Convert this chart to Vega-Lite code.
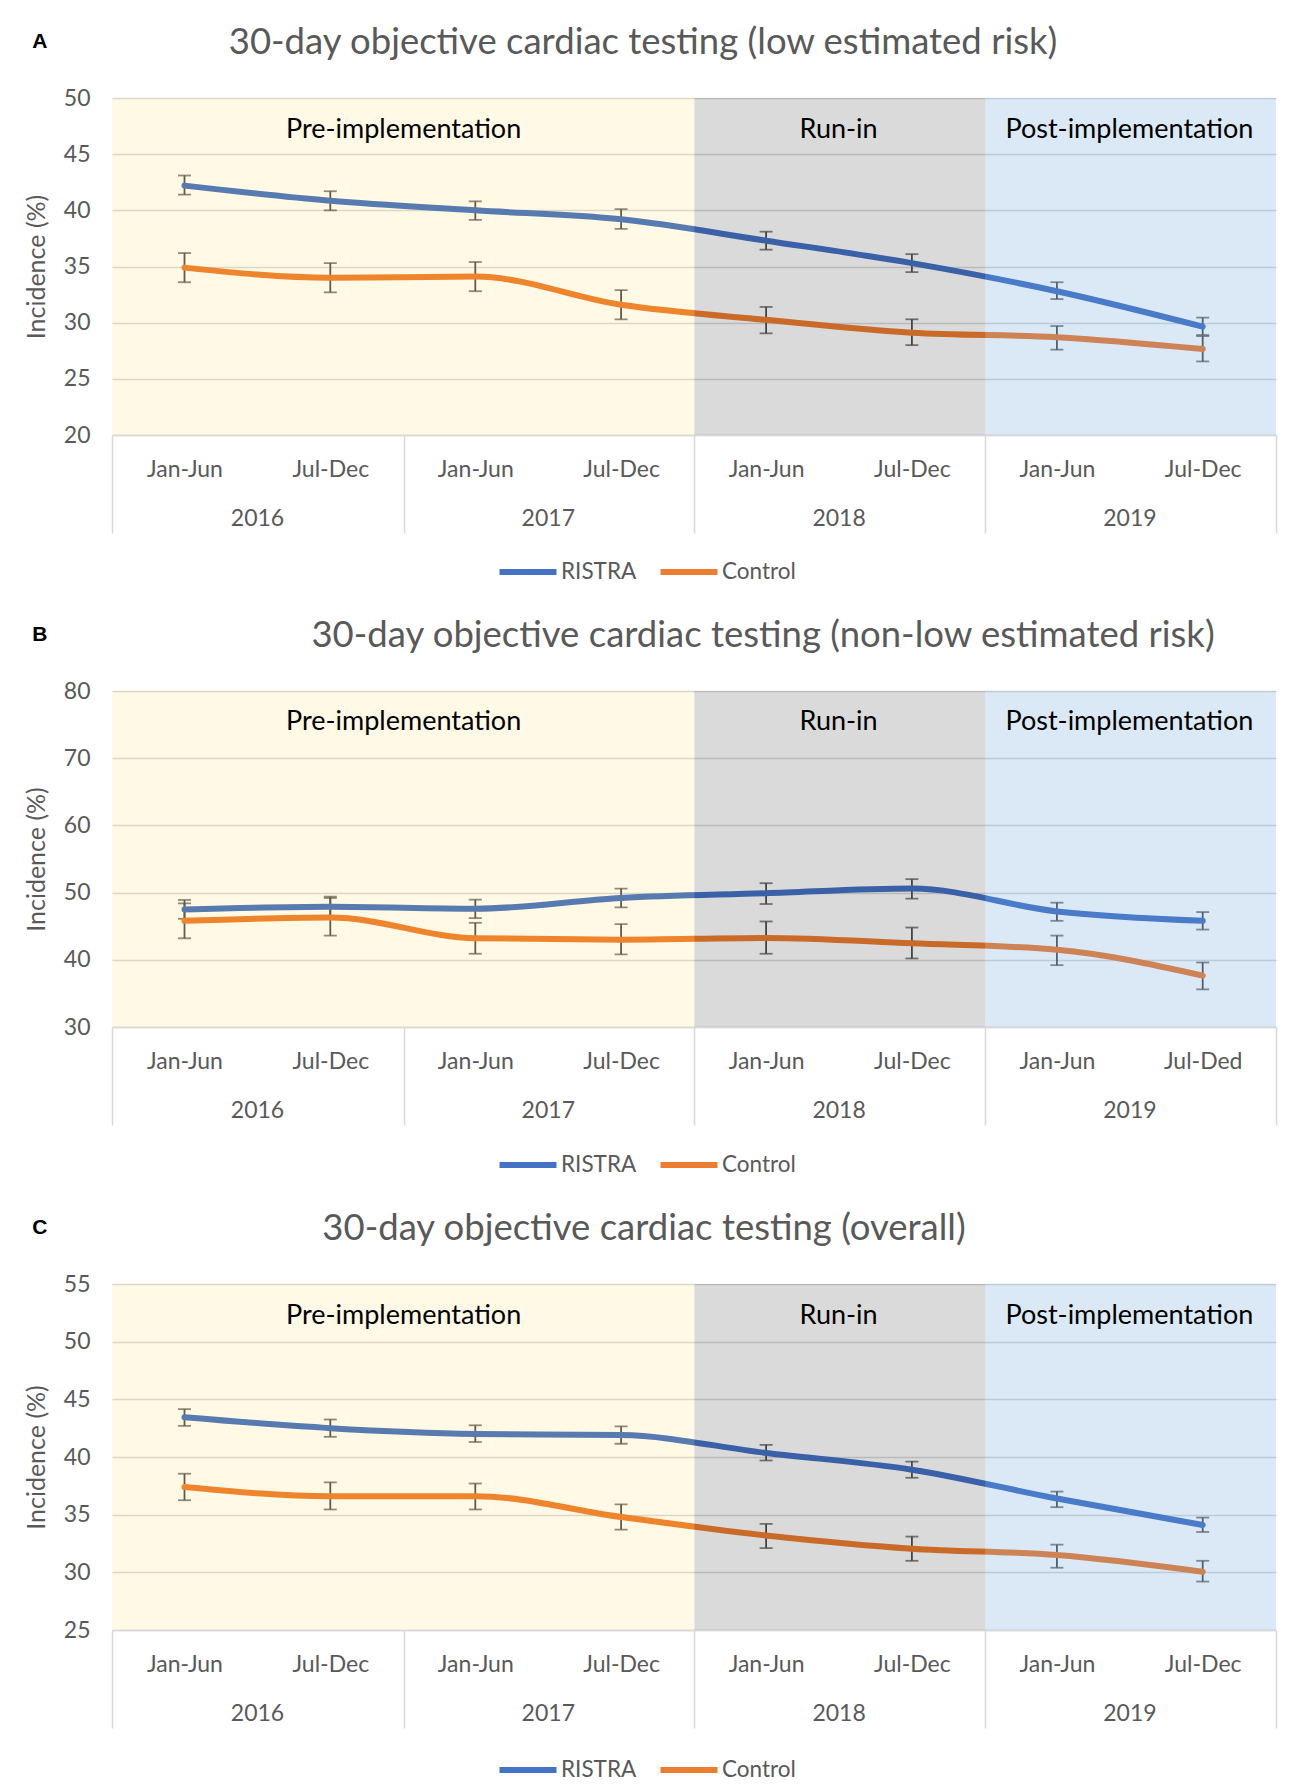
{
  "$schema": "https://vega.github.io/schema/vega-lite/v6.json",
  "background": "white",
  "padding": {"left": 24, "top": 25, "right": 10, "bottom": 5},
  "spacing": 34,
  "config": {
    "font": "Lato",
    "view": {"stroke": null},
    "axis": {"labelFont": "Lato", "titleFont": "Lato", "labelColor": "#595959", "titleColor": "#595959", "labelFontSize": 23, "titleFontSize": 25, "titleFontWeight": "normal", "ticks": false, "domain": false, "grid": false, "labelFlush": false, "labelOverlap": false},
    "title": {"font": "Lato", "fontWeight": "normal", "color": "#595959", "fontSize": 36.5},
    "legend": {"orient": "none", "legendX": 384, "legendY": 442, "direction": "horizontal", "labelFont": "Lato", "labelFontSize": 22.5, "labelColor": "#595959", "symbolType": "stroke", "symbolStrokeWidth": 6, "symbolSize": 3250, "columnPadding": 11, "labelOffset": 1, "padding": 0}
  },
  "datasets": {
    "phases": [
      {"phase": "Pre-implementation", "start": "2016-01-01", "end": "2018-01-01", "mid": "2017-01-01"},
      {"phase": "Run-in", "start": "2018-01-01", "end": "2019-01-01", "mid": "2018-07-01"},
      {"phase": "Post-implementation", "start": "2019-01-01", "end": "2020-01-01", "mid": "2019-07-01"}
    ],
    "A": [
      {"period": "2016-04-01", "group": "RISTRA", "value": 42.2, "lo": 41.4, "hi": 43.1},
      {"period": "2016-10-01", "group": "RISTRA", "value": 40.85, "lo": 40.0, "hi": 41.7},
      {"period": "2017-04-01", "group": "RISTRA", "value": 40.0, "lo": 39.15, "hi": 40.8},
      {"period": "2017-10-01", "group": "RISTRA", "value": 39.2, "lo": 38.35, "hi": 40.1},
      {"period": "2018-04-01", "group": "RISTRA", "value": 37.3, "lo": 36.5, "hi": 38.1},
      {"period": "2018-10-01", "group": "RISTRA", "value": 35.3, "lo": 34.5, "hi": 36.1},
      {"period": "2019-04-01", "group": "RISTRA", "value": 32.8, "lo": 32.1, "hi": 33.6},
      {"period": "2019-10-01", "group": "RISTRA", "value": 29.65, "lo": 28.9, "hi": 30.45},
      {"period": "2016-04-01", "group": "Control", "value": 34.9, "lo": 33.6, "hi": 36.2},
      {"period": "2016-10-01", "group": "Control", "value": 34.0, "lo": 32.7, "hi": 35.3},
      {"period": "2017-04-01", "group": "Control", "value": 34.1, "lo": 32.8, "hi": 35.4},
      {"period": "2017-10-01", "group": "Control", "value": 31.6, "lo": 30.3, "hi": 32.9},
      {"period": "2018-04-01", "group": "Control", "value": 30.25, "lo": 29.05, "hi": 31.4},
      {"period": "2018-10-01", "group": "Control", "value": 29.1, "lo": 28.0, "hi": 30.3},
      {"period": "2019-04-01", "group": "Control", "value": 28.7, "lo": 27.6, "hi": 29.7},
      {"period": "2019-10-01", "group": "Control", "value": 27.65, "lo": 26.55, "hi": 28.8}
    ],
    "B": [
      {"period": "2016-04-01", "group": "RISTRA", "value": 47.5, "lo": 46.1, "hi": 48.9},
      {"period": "2016-10-01", "group": "RISTRA", "value": 47.9, "lo": 46.45, "hi": 49.4},
      {"period": "2017-04-01", "group": "RISTRA", "value": 47.6, "lo": 46.2, "hi": 48.95},
      {"period": "2017-10-01", "group": "RISTRA", "value": 49.2, "lo": 47.8, "hi": 50.6},
      {"period": "2018-04-01", "group": "RISTRA", "value": 49.9, "lo": 48.3, "hi": 51.4},
      {"period": "2018-10-01", "group": "RISTRA", "value": 50.6, "lo": 49.1, "hi": 52.0},
      {"period": "2019-04-01", "group": "RISTRA", "value": 47.2, "lo": 45.8, "hi": 48.5},
      {"period": "2019-10-01", "group": "RISTRA", "value": 45.8, "lo": 44.5, "hi": 47.1},
      {"period": "2016-04-01", "group": "Control", "value": 45.8, "lo": 43.2, "hi": 48.4},
      {"period": "2016-10-01", "group": "Control", "value": 46.3, "lo": 43.6, "hi": 49.2},
      {"period": "2017-04-01", "group": "Control", "value": 43.2, "lo": 40.9, "hi": 45.5},
      {"period": "2017-10-01", "group": "Control", "value": 43.0, "lo": 40.8, "hi": 45.3},
      {"period": "2018-04-01", "group": "Control", "value": 43.25, "lo": 40.9, "hi": 45.7},
      {"period": "2018-10-01", "group": "Control", "value": 42.45, "lo": 40.2, "hi": 44.8},
      {"period": "2019-04-01", "group": "Control", "value": 41.5, "lo": 39.2, "hi": 43.6},
      {"period": "2019-10-01", "group": "Control", "value": 37.65, "lo": 35.6, "hi": 39.6}
    ],
    "C": [
      {"period": "2016-04-01", "group": "RISTRA", "value": 43.45, "lo": 42.7, "hi": 44.15},
      {"period": "2016-10-01", "group": "RISTRA", "value": 42.5, "lo": 41.75, "hi": 43.25},
      {"period": "2017-04-01", "group": "RISTRA", "value": 42.0, "lo": 41.3, "hi": 42.75},
      {"period": "2017-10-01", "group": "RISTRA", "value": 41.9, "lo": 41.15, "hi": 42.65},
      {"period": "2018-04-01", "group": "RISTRA", "value": 40.35, "lo": 39.7, "hi": 41.05},
      {"period": "2018-10-01", "group": "RISTRA", "value": 38.9, "lo": 38.2, "hi": 39.6},
      {"period": "2019-04-01", "group": "RISTRA", "value": 36.4, "lo": 35.65, "hi": 37.0},
      {"period": "2019-10-01", "group": "RISTRA", "value": 34.1, "lo": 33.5, "hi": 34.75},
      {"period": "2016-04-01", "group": "Control", "value": 37.4, "lo": 36.25, "hi": 38.55},
      {"period": "2016-10-01", "group": "Control", "value": 36.6, "lo": 35.45, "hi": 37.8},
      {"period": "2017-04-01", "group": "Control", "value": 36.6, "lo": 35.45, "hi": 37.7},
      {"period": "2017-10-01", "group": "Control", "value": 34.8, "lo": 33.7, "hi": 35.9},
      {"period": "2018-04-01", "group": "Control", "value": 33.2, "lo": 32.1, "hi": 34.2},
      {"period": "2018-10-01", "group": "Control", "value": 32.05, "lo": 31.0, "hi": 33.1},
      {"period": "2019-04-01", "group": "Control", "value": 31.5, "lo": 30.4, "hi": 32.4},
      {"period": "2019-10-01", "group": "Control", "value": 30.05, "lo": 29.2, "hi": 31.0}
    ]
  },
  "resolve": {"scale": {"x": "independent", "y": "independent", "color": "independent", "fill": "independent"}, "legend": {"color": "independent"}},
  "vconcat": [
    {
      "title": {"text": "A", "anchor": "start", "frame": "bounds", "font": "Liberation Sans", "fontWeight": "bold", "fontSize": 21, "color": "#000000", "offset": -27, "dx": 8},
      "resolve": {"scale": {"x": "independent", "y": "independent", "color": "independent", "fill": "independent"}, "legend": {"color": "independent"}},
      "vconcat": [
        {
          "title": {"text": "30-day objective cardiac testing (low estimated risk)", "anchor": "middle", "frame": "group", "dx": -51, "offset": 25.5},
          "width": 1164,
          "height": 337,
          "data": {"name": "A"},
          "resolve": {"axis": {"x": "independent"}},
          "layer": [
            {
              "mark": {"type": "rule", "color": "#505050", "strokeWidth": 1.8},
              "encoding": {
                "x": {"field": "period", "type": "temporal", "scale": {"type": "utc"}, "axis": {"orient": "bottom", "values": [{"year": 2016, "month": 7, "date": 1, "utc": true}, {"year": 2017, "month": 7, "date": 1, "utc": true}, {"year": 2018, "month": 7, "date": 1, "utc": true}, {"year": 2019, "month": 7, "date": 1, "utc": true}], "labelExpr": "utcFormat(datum.value, '%Y')", "labelPadding": 72, "title": null}},
                "y": {"field": "lo", "type": "quantitative", "axis": {"values": [20, 25, 30, 35, 40, 45, 50], "title": "Incidence (%)", "grid": true, "gridColor": "#D9D9D9", "gridWidth": 1.5, "labelPadding": 22, "titlePadding": 14}},
                "y2": {"field": "hi"}
              }
            },
            {
              "mark": {"type": "tick", "orient": "horizontal", "color": "#505050", "size": 13, "thickness": 1.8},
              "encoding": {
                "x": {"field": "period", "type": "temporal", "scale": {"type": "utc"}, "axis": null},
                "y": {"field": "lo", "type": "quantitative", "axis": {"values": [20, 25, 30, 35, 40, 45, 50], "title": "Incidence (%)", "grid": true, "gridColor": "#D9D9D9", "gridWidth": 1.5, "labelPadding": 22, "titlePadding": 14}}
              }
            },
            {
              "mark": {"type": "tick", "orient": "horizontal", "color": "#505050", "size": 13, "thickness": 1.8},
              "encoding": {
                "x": {"field": "period", "type": "temporal", "scale": {"type": "utc"}, "axis": null},
                "y": {"field": "hi", "type": "quantitative", "axis": {"values": [20, 25, 30, 35, 40, 45, 50], "title": "Incidence (%)", "grid": true, "gridColor": "#D9D9D9", "gridWidth": 1.5, "labelPadding": 22, "titlePadding": 14}}
              }
            },
            {
              "mark": {"type": "line", "strokeWidth": 6, "strokeCap": "round", "strokeJoin": "round", "interpolate": "monotone"},
              "encoding": {
                "x": {"field": "period", "type": "temporal", "scale": {"type": "utc", "nice": false, "domain": [{"year": 2016, "month": 1, "date": 1, "utc": true}, {"year": 2020, "month": 1, "date": 1, "utc": true}]}, "axis": {"orient": "bottom", "values": [{"year": 2016, "month": 4, "date": 1, "utc": true}, {"year": 2016, "month": 10, "date": 1, "utc": true}, {"year": 2017, "month": 4, "date": 1, "utc": true}, {"year": 2017, "month": 10, "date": 1, "utc": true}, {"year": 2018, "month": 4, "date": 1, "utc": true}, {"year": 2018, "month": 10, "date": 1, "utc": true}, {"year": 2019, "month": 4, "date": 1, "utc": true}, {"year": 2019, "month": 10, "date": 1, "utc": true}], "labelExpr": "utcFormat(datum.value, '%m') == '04' ? 'Jan-Jun' : 'Jul-Dec'", "labelPadding": 23, "title": null, "domain": true, "domainColor": "#D9D9D9", "domainWidth": 1.5}},
                "y": {"field": "value", "type": "quantitative", "scale": {"domain": [20, 50], "nice": false, "zero": false}, "axis": {"values": [20, 25, 30, 35, 40, 45, 50], "title": "Incidence (%)", "grid": true, "gridColor": "#D9D9D9", "gridWidth": 1.5, "labelPadding": 22, "titlePadding": 14}},
                "color": {"field": "group", "type": "nominal", "scale": {"domain": ["RISTRA", "Control"], "range": ["#4472C4", "#ED7D31"]}, "legend": {"title": null}}
              }
            },
            {
              "data": {"name": "phases"},
              "mark": {"type": "rect"},
              "encoding": {
                "x": {"field": "start", "type": "temporal", "scale": {"type": "utc"}, "axis": {"orient": "bottom", "values": [{"year": 2016, "month": 1, "date": 1, "utc": true}, {"year": 2017, "month": 1, "date": 1, "utc": true}, {"year": 2018, "month": 1, "date": 1, "utc": true}, {"year": 2019, "month": 1, "date": 1, "utc": true}, {"year": 2020, "month": 1, "date": 1, "utc": true}], "labels": false, "ticks": true, "tickSize": 98, "tickColor": "#D9D9D9", "tickWidth": 1.5, "title": null}},
                "x2": {"field": "end"},
                "fill": {"field": "phase", "type": "nominal", "scale": {"domain": ["Pre-implementation", "Run-in", "Post-implementation"], "range": ["rgba(255,192,0,0.1)", "rgba(0,0,0,0.145)", "rgba(91,155,213,0.22)"]}, "legend": null}
              }
            },
            {
              "data": {"name": "phases"},
              "mark": {"type": "text", "font": "Lato", "fontSize": 27, "color": "#000000"},
              "encoding": {
                "x": {"field": "mid", "type": "temporal", "scale": {"type": "utc"}, "axis": null},
                "y": {"datum": 47.15, "type": "quantitative", "axis": {"values": [20, 25, 30, 35, 40, 45, 50], "title": "Incidence (%)", "grid": true, "gridColor": "#D9D9D9", "gridWidth": 1.5, "labelPadding": 22, "titlePadding": 14}},
                "text": {"field": "phase"}
              }
            }
          ]
        }
      ]
    },
    {
      "title": {"text": "B", "anchor": "start", "frame": "bounds", "font": "Liberation Sans", "fontWeight": "bold", "fontSize": 21, "color": "#000000", "offset": -27, "dx": 8},
      "resolve": {"scale": {"x": "independent", "y": "independent", "color": "independent", "fill": "independent"}, "legend": {"color": "independent"}},
      "vconcat": [
        {
          "title": {"text": "30-day objective cardiac testing (non-low estimated risk)", "anchor": "middle", "frame": "group", "dx": 69, "offset": 25.5},
          "width": 1164,
          "height": 336,
          "data": {"name": "B"},
          "resolve": {"axis": {"x": "independent"}},
          "layer": [
            {
              "mark": {"type": "rule", "color": "#505050", "strokeWidth": 1.8},
              "encoding": {
                "x": {"field": "period", "type": "temporal", "scale": {"type": "utc"}, "axis": {"orient": "bottom", "values": [{"year": 2016, "month": 7, "date": 1, "utc": true}, {"year": 2017, "month": 7, "date": 1, "utc": true}, {"year": 2018, "month": 7, "date": 1, "utc": true}, {"year": 2019, "month": 7, "date": 1, "utc": true}], "labelExpr": "utcFormat(datum.value, '%Y')", "labelPadding": 72, "title": null}},
                "y": {"field": "lo", "type": "quantitative", "axis": {"values": [30, 40, 50, 60, 70, 80], "title": "Incidence (%)", "grid": true, "gridColor": "#D9D9D9", "gridWidth": 1.5, "labelPadding": 22, "titlePadding": 14}},
                "y2": {"field": "hi"}
              }
            },
            {
              "mark": {"type": "tick", "orient": "horizontal", "color": "#505050", "size": 13, "thickness": 1.8},
              "encoding": {
                "x": {"field": "period", "type": "temporal", "scale": {"type": "utc"}, "axis": null},
                "y": {"field": "lo", "type": "quantitative", "axis": {"values": [30, 40, 50, 60, 70, 80], "title": "Incidence (%)", "grid": true, "gridColor": "#D9D9D9", "gridWidth": 1.5, "labelPadding": 22, "titlePadding": 14}}
              }
            },
            {
              "mark": {"type": "tick", "orient": "horizontal", "color": "#505050", "size": 13, "thickness": 1.8},
              "encoding": {
                "x": {"field": "period", "type": "temporal", "scale": {"type": "utc"}, "axis": null},
                "y": {"field": "hi", "type": "quantitative", "axis": {"values": [30, 40, 50, 60, 70, 80], "title": "Incidence (%)", "grid": true, "gridColor": "#D9D9D9", "gridWidth": 1.5, "labelPadding": 22, "titlePadding": 14}}
              }
            },
            {
              "mark": {"type": "line", "strokeWidth": 6, "strokeCap": "round", "strokeJoin": "round", "interpolate": "monotone"},
              "encoding": {
                "x": {"field": "period", "type": "temporal", "scale": {"type": "utc", "nice": false, "domain": [{"year": 2016, "month": 1, "date": 1, "utc": true}, {"year": 2020, "month": 1, "date": 1, "utc": true}]}, "axis": {"orient": "bottom", "values": [{"year": 2016, "month": 4, "date": 1, "utc": true}, {"year": 2016, "month": 10, "date": 1, "utc": true}, {"year": 2017, "month": 4, "date": 1, "utc": true}, {"year": 2017, "month": 10, "date": 1, "utc": true}, {"year": 2018, "month": 4, "date": 1, "utc": true}, {"year": 2018, "month": 10, "date": 1, "utc": true}, {"year": 2019, "month": 4, "date": 1, "utc": true}, {"year": 2019, "month": 10, "date": 1, "utc": true}], "labelExpr": "utcFormat(datum.value, '%Y-%m') == '2019-10' ? 'Jul-Ded' : (utcFormat(datum.value, '%m') == '04' ? 'Jan-Jun' : 'Jul-Dec')", "labelPadding": 23, "title": null, "domain": true, "domainColor": "#D9D9D9", "domainWidth": 1.5}},
                "y": {"field": "value", "type": "quantitative", "scale": {"domain": [30, 80], "nice": false, "zero": false}, "axis": {"values": [30, 40, 50, 60, 70, 80], "title": "Incidence (%)", "grid": true, "gridColor": "#D9D9D9", "gridWidth": 1.5, "labelPadding": 22, "titlePadding": 14}},
                "color": {"field": "group", "type": "nominal", "scale": {"domain": ["RISTRA", "Control"], "range": ["#4472C4", "#ED7D31"]}, "legend": {"title": null}}
              }
            },
            {
              "data": {"name": "phases"},
              "mark": {"type": "rect"},
              "encoding": {
                "x": {"field": "start", "type": "temporal", "scale": {"type": "utc"}, "axis": {"orient": "bottom", "values": [{"year": 2016, "month": 1, "date": 1, "utc": true}, {"year": 2017, "month": 1, "date": 1, "utc": true}, {"year": 2018, "month": 1, "date": 1, "utc": true}, {"year": 2019, "month": 1, "date": 1, "utc": true}, {"year": 2020, "month": 1, "date": 1, "utc": true}], "labels": false, "ticks": true, "tickSize": 98, "tickColor": "#D9D9D9", "tickWidth": 1.5, "title": null}},
                "x2": {"field": "end"},
                "fill": {"field": "phase", "type": "nominal", "scale": {"domain": ["Pre-implementation", "Run-in", "Post-implementation"], "range": ["rgba(255,192,0,0.1)", "rgba(0,0,0,0.145)", "rgba(91,155,213,0.22)"]}, "legend": null}
              }
            },
            {
              "data": {"name": "phases"},
              "mark": {"type": "text", "font": "Lato", "fontSize": 27, "color": "#000000"},
              "encoding": {
                "x": {"field": "mid", "type": "temporal", "scale": {"type": "utc"}, "axis": null},
                "y": {"datum": 75.4, "type": "quantitative", "axis": {"values": [30, 40, 50, 60, 70, 80], "title": "Incidence (%)", "grid": true, "gridColor": "#D9D9D9", "gridWidth": 1.5, "labelPadding": 22, "titlePadding": 14}},
                "text": {"field": "phase"}
              }
            }
          ]
        }
      ]
    },
    {
      "title": {"text": "C", "anchor": "start", "frame": "bounds", "font": "Liberation Sans", "fontWeight": "bold", "fontSize": 21, "color": "#000000", "offset": -27, "dx": 8},
      "resolve": {"scale": {"x": "independent", "y": "independent", "color": "independent", "fill": "independent"}, "legend": {"color": "independent"}},
      "vconcat": [
        {
          "title": {"text": "30-day objective cardiac testing (overall)", "anchor": "middle", "frame": "group", "dx": -50, "offset": 25.5},
          "width": 1164,
          "height": 346,
          "data": {"name": "C"},
          "resolve": {"axis": {"x": "independent"}},
          "layer": [
            {
              "mark": {"type": "rule", "color": "#505050", "strokeWidth": 1.8},
              "encoding": {
                "x": {"field": "period", "type": "temporal", "scale": {"type": "utc"}, "axis": {"orient": "bottom", "values": [{"year": 2016, "month": 7, "date": 1, "utc": true}, {"year": 2017, "month": 7, "date": 1, "utc": true}, {"year": 2018, "month": 7, "date": 1, "utc": true}, {"year": 2019, "month": 7, "date": 1, "utc": true}], "labelExpr": "utcFormat(datum.value, '%Y')", "labelPadding": 72, "title": null}},
                "y": {"field": "lo", "type": "quantitative", "axis": {"values": [25, 30, 35, 40, 45, 50, 55], "title": "Incidence (%)", "grid": true, "gridColor": "#D9D9D9", "gridWidth": 1.5, "labelPadding": 22, "titlePadding": 14}},
                "y2": {"field": "hi"}
              }
            },
            {
              "mark": {"type": "tick", "orient": "horizontal", "color": "#505050", "size": 13, "thickness": 1.8},
              "encoding": {
                "x": {"field": "period", "type": "temporal", "scale": {"type": "utc"}, "axis": null},
                "y": {"field": "lo", "type": "quantitative", "axis": {"values": [25, 30, 35, 40, 45, 50, 55], "title": "Incidence (%)", "grid": true, "gridColor": "#D9D9D9", "gridWidth": 1.5, "labelPadding": 22, "titlePadding": 14}}
              }
            },
            {
              "mark": {"type": "tick", "orient": "horizontal", "color": "#505050", "size": 13, "thickness": 1.8},
              "encoding": {
                "x": {"field": "period", "type": "temporal", "scale": {"type": "utc"}, "axis": null},
                "y": {"field": "hi", "type": "quantitative", "axis": {"values": [25, 30, 35, 40, 45, 50, 55], "title": "Incidence (%)", "grid": true, "gridColor": "#D9D9D9", "gridWidth": 1.5, "labelPadding": 22, "titlePadding": 14}}
              }
            },
            {
              "mark": {"type": "line", "strokeWidth": 6, "strokeCap": "round", "strokeJoin": "round", "interpolate": "monotone"},
              "encoding": {
                "x": {"field": "period", "type": "temporal", "scale": {"type": "utc", "nice": false, "domain": [{"year": 2016, "month": 1, "date": 1, "utc": true}, {"year": 2020, "month": 1, "date": 1, "utc": true}]}, "axis": {"orient": "bottom", "values": [{"year": 2016, "month": 4, "date": 1, "utc": true}, {"year": 2016, "month": 10, "date": 1, "utc": true}, {"year": 2017, "month": 4, "date": 1, "utc": true}, {"year": 2017, "month": 10, "date": 1, "utc": true}, {"year": 2018, "month": 4, "date": 1, "utc": true}, {"year": 2018, "month": 10, "date": 1, "utc": true}, {"year": 2019, "month": 4, "date": 1, "utc": true}, {"year": 2019, "month": 10, "date": 1, "utc": true}], "labelExpr": "utcFormat(datum.value, '%m') == '04' ? 'Jan-Jun' : 'Jul-Dec'", "labelPadding": 23, "title": null, "domain": true, "domainColor": "#D9D9D9", "domainWidth": 1.5}},
                "y": {"field": "value", "type": "quantitative", "scale": {"domain": [25, 55], "nice": false, "zero": false}, "axis": {"values": [25, 30, 35, 40, 45, 50, 55], "title": "Incidence (%)", "grid": true, "gridColor": "#D9D9D9", "gridWidth": 1.5, "labelPadding": 22, "titlePadding": 14}},
                "color": {"field": "group", "type": "nominal", "scale": {"domain": ["RISTRA", "Control"], "range": ["#4472C4", "#ED7D31"]}, "legend": {"title": null, "legendY": 454}}
              }
            },
            {
              "data": {"name": "phases"},
              "mark": {"type": "rect"},
              "encoding": {
                "x": {"field": "start", "type": "temporal", "scale": {"type": "utc"}, "axis": {"orient": "bottom", "values": [{"year": 2016, "month": 1, "date": 1, "utc": true}, {"year": 2017, "month": 1, "date": 1, "utc": true}, {"year": 2018, "month": 1, "date": 1, "utc": true}, {"year": 2019, "month": 1, "date": 1, "utc": true}, {"year": 2020, "month": 1, "date": 1, "utc": true}], "labels": false, "ticks": true, "tickSize": 98, "tickColor": "#D9D9D9", "tickWidth": 1.5, "title": null}},
                "x2": {"field": "end"},
                "fill": {"field": "phase", "type": "nominal", "scale": {"domain": ["Pre-implementation", "Run-in", "Post-implementation"], "range": ["rgba(255,192,0,0.1)", "rgba(0,0,0,0.145)", "rgba(91,155,213,0.22)"]}, "legend": null}
              }
            },
            {
              "data": {"name": "phases"},
              "mark": {"type": "text", "font": "Lato", "fontSize": 27, "color": "#000000"},
              "encoding": {
                "x": {"field": "mid", "type": "temporal", "scale": {"type": "utc"}, "axis": null},
                "y": {"datum": 52.2, "type": "quantitative", "axis": {"values": [25, 30, 35, 40, 45, 50, 55], "title": "Incidence (%)", "grid": true, "gridColor": "#D9D9D9", "gridWidth": 1.5, "labelPadding": 22, "titlePadding": 14}},
                "text": {"field": "phase"}
              }
            }
          ]
        }
      ]
    }
  ]
}
